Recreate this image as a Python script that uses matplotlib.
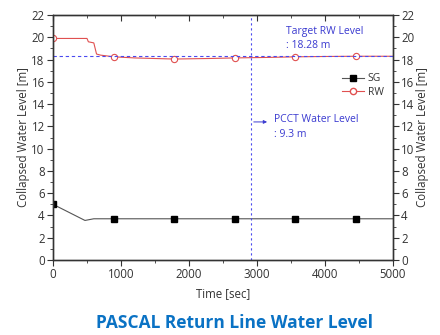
import numpy as np
import matplotlib
matplotlib.use('Agg')
import matplotlib.pyplot as plt
from matplotlib.ticker import MultipleLocator

# RW level (red line, open circles)
rw_t = [0, 500, 520, 600, 640, 700, 900, 1200, 1780, 2300, 2670, 3200, 3560, 4000, 4450, 5000]
rw_y = [19.9, 19.9, 19.6, 19.5, 18.5, 18.4, 18.25, 18.15, 18.05, 18.1, 18.15, 18.2, 18.25, 18.28, 18.3, 18.3]
rw_mark_t = [0, 890, 1780, 2670, 3560, 4450]
rw_mark_y = [19.9, 18.25, 18.05, 18.15, 18.25, 18.3]

# SG level (black line, filled squares)
sg_t = [0, 470, 600, 5000]
sg_y = [5.0, 3.55, 3.7, 3.7]
sg_mark_t = [0, 890, 1780, 2670, 3560, 4450]
sg_mark_y = [5.0, 3.7, 3.7, 3.7, 3.7, 3.7]

target_rw = 18.28
pcct_time = 2912

txt = '#333333'
blue = '#3a3ad0'
dash_blue = '#4a4af0'
plt.rcParams['font.family'] = ['Open Sans', 'DejaVu Sans']
fs = 8.3

fig = plt.figure(figsize=(4.4, 3.35), dpi=100)
ax = fig.add_axes([0.1205, 0.224, 0.7725, 0.731])

ax.plot(sg_t, sg_y, color='#555555', lw=0.8)
ax.plot(sg_mark_t, sg_mark_y, ls='none', marker='s', ms=4, color='black')
ax.plot(rw_t, rw_y, color='#e05050', lw=0.8)
ax.plot(rw_mark_t, rw_mark_y, ls='none', marker='o', ms=4.5, mfc='white', mec='#e05050', mew=0.8)

# legend entries
ax.plot([], [], color='#555555', lw=0.8, marker='s', ms=4, mfc='black', mec='black', label='SG')
ax.plot([], [], color='#e05050', lw=0.8, marker='o', ms=4.5, mfc='white', mec='#e05050', label='RW')
leg = ax.legend(loc='upper right', bbox_to_anchor=(1.0, 0.80), frameon=False, fontsize=7.5,
                handlelength=2.2, handletextpad=0.3, labelspacing=0.2)
for t in leg.get_texts():
    t.set_color(txt)

ax.axhline(target_rw, color=dash_blue, ls=(0, (3, 2.5)), lw=0.8, zorder=5)
ax.axvline(pcct_time, color=dash_blue, ls=(0, (2, 2.5)), lw=0.8, zorder=5)

ax.text(3420, 20.55, 'Target RW Level', color=blue, fontsize=7.5, va='center')
ax.text(3420, 19.25, ': 18.28 m', color=blue, fontsize=7.5, va='center')
ax.annotate('', xy=(3190, 12.4), xytext=(pcct_time, 12.4),
            arrowprops=dict(arrowstyle='-|>', color=blue, lw=0.7, mutation_scale=5))
ax.text(3250, 12.6, 'PCCT Water Level', color=blue, fontsize=7.5, va='center')
ax.text(3250, 11.3, ': 9.3 m', color=blue, fontsize=7.5, va='center')

ax.set_xlim(0, 5000)
ax.set_ylim(0, 22)
ax.xaxis.set_major_locator(MultipleLocator(1000))
ax.xaxis.set_minor_locator(MultipleLocator(500))
ax.yaxis.set_major_locator(MultipleLocator(2))
ax.yaxis.set_minor_locator(MultipleLocator(1))
ax.tick_params(which='both', direction='out', colors=txt, labelsize=fs, top=False)
ax.tick_params(which='major', length=4, width=0.8, pad=2)
ax.tick_params(which='minor', length=2, width=0.6)
ax.set_xlabel('Time [sec]', fontsize=fs, color=txt, labelpad=4)
ax.set_ylabel('Collapsed Water Level [m]', fontsize=fs, color=txt, labelpad=1)

ax2 = ax.twinx()
ax2.set_ylim(0, 22)
ax2.yaxis.set_major_locator(MultipleLocator(2))
ax2.yaxis.set_minor_locator(MultipleLocator(1))
ax2.tick_params(which='both', direction='out', colors=txt, labelsize=fs)
ax2.tick_params(which='major', length=4, width=0.8, pad=2)
ax2.tick_params(which='minor', length=2, width=0.6)
ax2.set_ylabel('Collapsed Water Level [m]', fontsize=fs, color=txt, labelpad=1)

ax3 = ax.twiny()
ax3.set_xlim(0, 5000)
ax3.xaxis.set_major_locator(MultipleLocator(1000))
ax3.xaxis.set_minor_locator(MultipleLocator(500))
ax3.tick_params(which='both', direction='in', labeltop=False, colors=txt)
ax3.tick_params(which='major', length=4, width=0.8)
ax3.tick_params(which='minor', length=2, width=0.6)

for a in (ax, ax2, ax3):
    for s in a.spines.values():
        s.set_color('#333333')
        s.set_linewidth(0.9)

fig.text(0.534, 0.036, 'PASCAL Return Line Water Level', ha='center', va='center',
         fontsize=12.5, fontweight='bold', color='#0a72c4')

fig.savefig('out.png', dpi=100)
